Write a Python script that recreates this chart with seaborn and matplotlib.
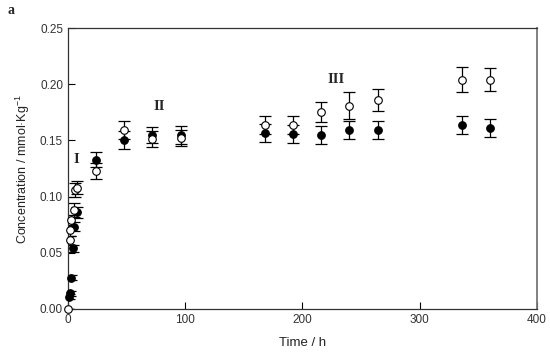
import matplotlib
matplotlib.use("Agg")
import matplotlib.pyplot as plt
import seaborn as sns
import numpy as np
import pandas as pd

# Data
time_filled = [1, 2, 3, 4, 5, 8, 24, 48, 72, 96, 168, 192, 216, 240, 264, 336, 360]
conc_filled = [0.011, 0.014, 0.028, 0.054, 0.073, 0.086, 0.133, 0.150, 0.155, 0.155,
               0.157, 0.156, 0.155, 0.159, 0.159, 0.164, 0.161]
err_filled = [0.002, 0.002, 0.002, 0.003, 0.004, 0.005, 0.007, 0.008, 0.007, 0.008,
              0.008, 0.008, 0.008, 0.008, 0.008, 0.008, 0.008]

time_open = [0, 1.5, 2, 3, 5, 6, 8, 24, 48, 72, 96, 168, 192, 216, 240, 264, 336, 360]
conc_open = [0.000, 0.061, 0.070, 0.079, 0.088, 0.106, 0.108, 0.123, 0.159, 0.151,
             0.152, 0.164, 0.164, 0.175, 0.181, 0.186, 0.204, 0.204]
err_open = [0.000, 0.004, 0.005, 0.005, 0.006, 0.006, 0.006, 0.007, 0.008, 0.007,
            0.007, 0.008, 0.008, 0.009, 0.012, 0.010, 0.011, 0.010]

x_ticks = [0, 100, 200, 300, 400]
y_ticks = [0.00, 0.05, 0.10, 0.15, 0.20, 0.25]

sns.set_theme(style="ticks")
plt.rcParams['font.family'] = ['Liberation Sans', 'DejaVu Sans']

df_f = pd.DataFrame({"t": time_filled, "c": conc_filled})
df_o = pd.DataFrame({"t": time_open, "c": conc_open})

fig = plt.figure(figsize=(5.5, 3.55), dpi=100)
ax = fig.add_axes([0.1236, 0.1296, 0.8527, 0.7915])

ax.errorbar(time_filled, conc_filled, yerr=err_filled, fmt='none', ecolor='black',
            elinewidth=0.9, capsize=4, capthick=0.9, zorder=2)
ax.errorbar(time_open, conc_open, yerr=err_open, fmt='none', ecolor='black',
            elinewidth=0.9, capsize=4, capthick=0.9, zorder=2)
sns.scatterplot(data=df_f, x="t", y="c", ax=ax, marker='o', s=30,
                color='black', edgecolor='black', linewidth=0.8, zorder=3, clip_on=False)
sns.scatterplot(data=df_o, x="t", y="c", ax=ax, marker='o', s=30,
                color='white', edgecolor='black', linewidth=0.8, zorder=4, clip_on=False)

ax.set_xlim(0, 400)
ax.set_ylim(0, 0.25)
ax.set_xticks(x_ticks)
ax.set_yticks(y_ticks)
ax.set_yticklabels([f"{v:.2f}" for v in y_ticks])
ax.tick_params(direction='in', length=5, width=0.8, labelsize=8.5, colors='black',
               labelcolor='#333333')
for s in ax.spines.values():
    s.set_linewidth(0.9)
    s.set_color('#333333')
ax.spines['right'].set_color('#777777')
ax.spines['right'].set_linewidth(1.3)

ax.set_xlabel("Time / h", fontsize=9.5, labelpad=8, color='#222222')
ax.set_ylabel("Concentration / mmol·Kg$^{\\mathregular{-1}}$", fontsize=9, labelpad=6,
              color='#222222')

serif = ['Liberation Serif', 'DejaVu Serif']
ax.text(7, 0.133, "I", family=serif, fontweight='bold', fontsize=10.5, ha='center', va='center')
ax.text(78, 0.180, "II", family=serif, fontweight='bold', fontsize=10.5, ha='center', va='center')
ax.text(229, 0.204, "III", family=serif, fontweight='bold', fontsize=10.5, ha='center', va='center')
fig.text(8/550, 1 - 10/355, "a", family=serif, fontweight='bold', fontsize=10, ha='left', va='center')

fig.savefig("out.png", dpi=100)
